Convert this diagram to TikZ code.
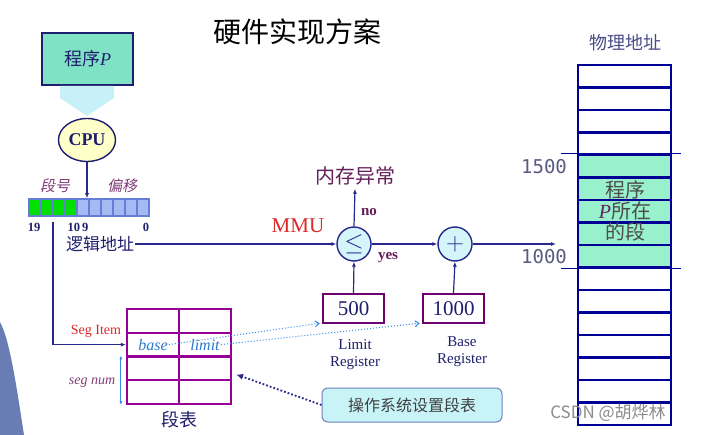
\documentclass[tikz,border=0pt]{standalone}
\usepackage{fontspec}
\setmainfont{Liberation Serif}
\newfontfamily\cjk{Noto Sans CJK SC}
\newfontfamily\cjkslant[FakeSlant=0.2]{Noto Sans CJK SC}
\newfontfamily\addrfont{DejaVu Sans Mono}
\usetikzlibrary{
    shapes.geometric,
    arrows.meta,
    positioning,
    calc
}
\definecolor{bgWhite}{RGB}{255, 255, 255}
\definecolor{textNavy}{RGB}{30, 30, 110}
\definecolor{wireNavy}{RGB}{40, 40, 140}
\definecolor{memNavy}{RGB}{0, 0, 150}
\definecolor{progFill}{RGB}{128, 226, 196}
\definecolor{memGreen}{RGB}{152, 240, 204}
\definecolor{cpuFill}{RGB}{255, 255, 200}
\definecolor{bitGreen}{RGB}{0, 225, 0}
\definecolor{bitBlue}{RGB}{165, 185, 242}
\definecolor{bitEdge}{RGB}{100, 125, 215}
\definecolor{tablePurple}{RGB}{150, 0, 150}
\definecolor{regPurple}{RGB}{110, 0, 110}
\definecolor{opFill}{RGB}{212, 246, 250}
\definecolor{segBlue}{RGB}{50, 140, 240}
\definecolor{noteFill}{RGB}{200, 244, 248}
\definecolor{noteEdge}{RGB}{110, 130, 190}
\definecolor{bigArrow}{RGB}{200, 240, 248}
\definecolor{textPurple}{RGB}{100, 30, 90}
\definecolor{labelPurple}{RGB}{130, 60, 120}
\definecolor{alertRed}{RGB}{220, 40, 40}
\definecolor{addrGray}{RGB}{90, 90, 130}
\definecolor{markGray}{RGB}{140, 140, 140}
\definecolor{personBlue}{RGB}{105, 125, 180}
\tikzset{
    progBox/.style={
        rectangle,
        draw=textNavy,
        line width=1.6pt,
        fill=progFill,
        minimum width=91pt,
        minimum height=52pt,
        font=\cjk\fontsize{18}{20}\selectfont,
        text=textNavy
    },
    cpuNode/.style={
        ellipse,
        draw=textNavy,
        line width=1.4pt,
        fill=cpuFill,
        minimum width=57pt,
        minimum height=43pt,
        inner sep=0pt,
        font=\bfseries\fontsize{18}{20}\selectfont,
        text=textNavy
    },
    bitCell/.style={
        rectangle,
        draw=bitEdge,
        line width=1.5pt,
        minimum width=12pt,
        minimum height=17pt,
        inner sep=0pt
    },
    segCell/.style={
        rectangle,
        draw=tablePurple,
        line width=2.2pt,
        fill=bgWhite,
        minimum width=52pt,
        minimum height=23.75pt,
        inner sep=0pt
    },
    memCell/.style={
        rectangle,
        draw=memNavy,
        line width=2.4pt,
        minimum width=93pt,
        minimum height=22.5pt,
        inner sep=0pt
    },
    opCircle/.style={
        circle,
        draw=wireNavy,
        line width=1.4pt,
        fill=opFill,
        minimum size=34pt,
        inner sep=0pt,
        font=\fontsize{24}{24}\selectfont,
        text=wireNavy
    },
    regBox/.style={
        rectangle,
        draw=regPurple,
        line width=2.4pt,
        fill=bgWhite,
        minimum width=61pt,
        minimum height=29pt,
        inner sep=0pt,
        font=\fontsize{21}{22}\selectfont,
        text=textNavy
    },
    noteBox/.style={
        rectangle,
        rounded corners=6pt,
        draw=noteEdge,
        line width=1pt,
        fill=noteFill,
        minimum width=180pt,
        minimum height=34pt,
        font=\cjk\fontsize{16}{18}\selectfont,
        text=black!75
    },
    wire/.style={
        draw=wireNavy,
        line width=1.2pt,
        -{Latex[length=5pt,width=4pt]}
    },
    dotLink/.style={
        draw=segBlue,
        line width=1pt,
        dotted,
        -{Straight Barb[length=4pt,width=6pt]}
    },
    caption/.style={
        font=\fontsize{15}{17}\selectfont,
        text=textNavy,
        align=center
    }
}

\begin{document}
\begin{tikzpicture}[x=1pt, y=-1pt]
    \useasboundingbox (0,0) rectangle (701,435);
    \fill[bgWhite] (0,0) rectangle (701,435);

    % lecturer at the left edge
    \fill[personBlue] (0,322) .. controls (10,340) and (17,390) .. (24,435) -- (0,435) -- cycle;

    \node[font=\cjk\fontsize{28}{30}\selectfont] (title) at (297,32) {硬件实现方案};

    % Program and CPU
    \node[progBox] (prog) at (87.5,59) {程序\textit{\rmfamily P}};
    \fill[bigArrow] (60,86) -- (114,86) -- (114,98) -- (87,116) -- (60,98) -- cycle;
    \node[cpuNode] (cpu) at (87,140) {CPU};

    % Logical address register
    \foreach \i in {1,...,10} {
        \ifnum\i<5
            \node[bitCell, fill=bitGreen] (b\i) at (23+12*\i,207.5) {};
        \else
            \node[bitCell, fill=bitBlue] (b\i) at (23+12*\i,207.5) {};
        \fi
    }
    \node[font=\cjkslant\fontsize{15}{17}\selectfont, text=labelPurple] (segno) at (55,186) {段号};
    \node[font=\cjkslant\fontsize{15}{17}\selectfont, text=labelPurple] (offset) at (122,186) {偏移};
    \node[font=\bfseries\fontsize{12.5}{13}\selectfont, text=textNavy] (bit19) at (34,227) {19};
    \node[font=\bfseries\fontsize{12.5}{13}\selectfont, text=textNavy] (bit10) at (78,227) {10\,9};
    \node[font=\bfseries\fontsize{12.5}{13}\selectfont, text=textNavy] (bit0) at (146,227) {0};
    \node[font=\cjk\fontsize{17}{19}\selectfont, text=textNavy, inner sep=1pt] (laddr) at (100,244) {逻辑地址};
    \coordinate (segtap) at (53,222);

    \draw[wire] (cpu.south) -- (cpu.south |- b5.north);

    % MMU
    \node[font=\fontsize{21}{22}\selectfont, text=alertRed] (mmu) at (298,226) {MMU};
    \node[opCircle] (leq) at (354,244) {$\leq$};
    \node[opCircle] (plus) at (455,244) {$+$};
    \node[font=\cjk\fontsize{20}{22}\selectfont, text=textPurple] (exc) at (355,176) {内存异常};
    \node[font=\bfseries\fontsize{15}{16}\selectfont, text=textPurple] (no) at (369,212) {no};
    \node[font=\bfseries\fontsize{15}{16}\selectfont, text=textPurple] (yes) at (388,258) {yes};
    \node[regBox] (limreg) at (353.5,308.5) {500};
    \node[regBox] (basereg) at (453.5,308.5) {1000};
    \node[caption] (limcap) at (355,355) {Limit\\Register};
    \node[caption] (basecap) at (462,352) {Base\\Register};
    \coordinate (memin) at (556,244);

    \draw[wire] (laddr.east) -- (leq.west);
    \draw[wire] (leq.north) -- (exc.south);
    \draw[wire] (leq.east) -- (plus.west);
    \draw[wire] (plus.east) -- (memin);
    \draw[wire] (limreg.north) -- (leq.south);
    \draw[wire] (basereg.north) -- (plus.south);

    % Segment table
    \foreach \r in {1,...,4} {
        \foreach \c in {1,2} {
            \node[segCell] (cell-\r-\c) at (101+52*\c,309+23.75*\r-11.875) {};
        }
    }
    \node[font=\itshape\fontsize{16}{17}\selectfont, text=segBlue!85!black, inner sep=1pt] (base) at (cell-2-1) {base};
    \node[font=\itshape\fontsize{16}{17}\selectfont, text=segBlue!85!black, inner sep=1pt] (limit) at (cell-2-2) {limit};
    \node[font=\fontsize{14}{15}\selectfont, text=alertRed] (segitem) at (96,331) {Seg Item};
    \node[font=\itshape\fontsize{14}{15}\selectfont, text=labelPurple] (segnum) at (92,383) {seg num};
    \node[font=\cjk\fontsize{18}{20}\selectfont, text=textNavy] (segtab) at (179,420) {段表};
    \node[noteBox] (note) at (412,405) {操作系统设置段表};

    \draw[wire] (segtap) |- (cell-2-1.west);
    \draw[draw=segBlue, line width=1pt, {Latex[length=4pt,width=3pt]}-{Latex[length=4pt,width=3pt]}]
        ([xshift=-5pt]cell-3-1.north west) -- ([xshift=-5pt]cell-4-1.south west);
    \draw[dotLink] (base.east) -- ([xshift=-2pt,yshift=1pt]limreg.south west);
    \draw[dotLink] (limit.east) -- ([xshift=-2pt,yshift=1pt]basereg.south west);
    \draw[draw=wireNavy, line width=1.8pt, dotted, -{Latex[length=7pt,width=6pt]}]
        (note.west) -- ([xshift=4pt,yshift=-6pt]cell-3-2.east);

    % Physical memory
    \node[font=\cjk\fontsize{18}{20}\selectfont, text=textNavy!80] (phys) at (625,43) {物理地址};
    \foreach \i in {0,...,15} {
        \ifnum\i>3 \ifnum\i<9
            \node[memCell, fill=memGreen] (m\i) at (624.5,76.25+22.5*\i) {};
        \else
            \node[memCell, fill=bgWhite] (m\i) at (624.5,76.25+22.5*\i) {};
        \fi \else
            \node[memCell, fill=bgWhite] (m\i) at (624.5,76.25+22.5*\i) {};
        \fi
    }
    \draw[draw=memNavy, line width=1.4pt] ([xshift=-16pt]m4.north west) -- ([xshift=9pt]m4.north east);
    \draw[draw=memNavy, line width=1.4pt] ([xshift=-16pt]m8.south west) -- ([xshift=9pt]m8.south east);
    \node[font=\addrfont\fontsize{19}{21}\selectfont, text=addrGray] (a1500) at (544,167) {1500};
    \node[font=\addrfont\fontsize{19}{21}\selectfont, text=addrGray] (a1000) at (544,257) {1000};
    \node[font=\cjk\fontsize{20}{21}\selectfont, text=black!70, align=center] (seg) at (625,211)
        {程序\\{\color{textPurple}\rmfamily\itshape P}所在\\的段};

    \node[font=\cjk\fontsize{17}{19}\selectfont, text=markGray] (mark) at (608,413) {CSDN @胡烨林};
\end{tikzpicture}
\end{document}
